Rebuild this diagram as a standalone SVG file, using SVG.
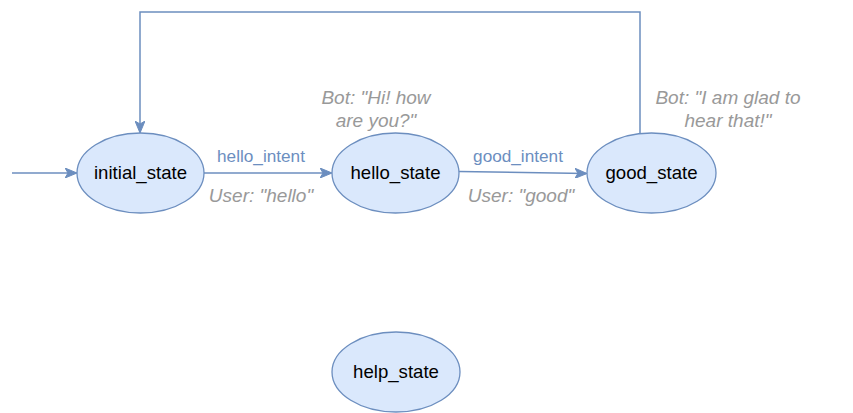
<svg xmlns="http://www.w3.org/2000/svg" width="853" height="413" viewBox="0 0 853 413">
<style>
.node{fill:#dae8fc;stroke:#6c8ebf;stroke-width:1.3}
.nt{font-family:"Liberation Sans",Arial,sans-serif;font-size:18.6px;fill:#000;text-anchor:middle}
.edge{fill:none;stroke:#6c8ebf;stroke-width:1.5}
.el{font-family:"Liberation Sans",Arial,sans-serif;font-size:17.2px;fill:#6c8ebf;text-anchor:middle}
.gl{font-family:"Liberation Sans",Arial,sans-serif;font-size:19px;font-style:italic;fill:#999999;text-anchor:middle}
</style>
<defs>
<marker id="arr" viewBox="0 0 12 10" refX="11" refY="5" markerWidth="12" markerHeight="10" markerUnits="userSpaceOnUse" orient="auto">
<path d="M0,0 L12,5 L0,10 L3,5 Z" fill="#6c8ebf" stroke="#6c8ebf" stroke-width="1"/>
</marker>
</defs>
<rect width="853" height="413" fill="#ffffff"/>
<g id="connectors">
<path class="edge" d="M12,173 L76,173" marker-end="url(#arr)"/>
<path class="edge" d="M204,173 L331,173" marker-end="url(#arr)"/>
<path class="edge" d="M459,171.5 L586,173.5" marker-end="url(#arr)"/>
<path class="edge" d="M640,133 L640,12 L140,12 L140,132" marker-end="url(#arr)"/>
</g>
<g id="labels">
<text class="el" x="261" y="162">hello_intent</text>
<text class="gl" x="261" y="202">User: "hello"</text>
<text class="el" x="518" y="162">good_intent</text>
<text class="gl" x="521" y="202">User: "good"</text>
<text class="gl" x="376" y="104">Bot: "Hi! how</text>
<text class="gl" x="376" y="127">are you?"</text>
<text class="gl" x="728" y="104">Bot: "I am glad to</text>
<text class="gl" x="728" y="127">hear that!"</text>
</g>
<g id="initial_state">
<ellipse class="node" cx="140.5" cy="173" rx="63.5" ry="40"/>
<text class="nt" x="140.5" y="179">initial_state</text>
</g>
<g id="hello_state">
<ellipse class="node" cx="395.5" cy="173" rx="63.5" ry="40"/>
<text class="nt" x="395.5" y="179">hello_state</text>
</g>
<g id="good_state">
<ellipse class="node" cx="651.5" cy="173" rx="64.5" ry="40"/>
<text class="nt" x="651.5" y="179">good_state</text>
</g>
<g id="help_state">
<ellipse class="node" cx="396" cy="372" rx="64" ry="40"/>
<text class="nt" x="396" y="378">help_state</text>
</g>
</svg>
